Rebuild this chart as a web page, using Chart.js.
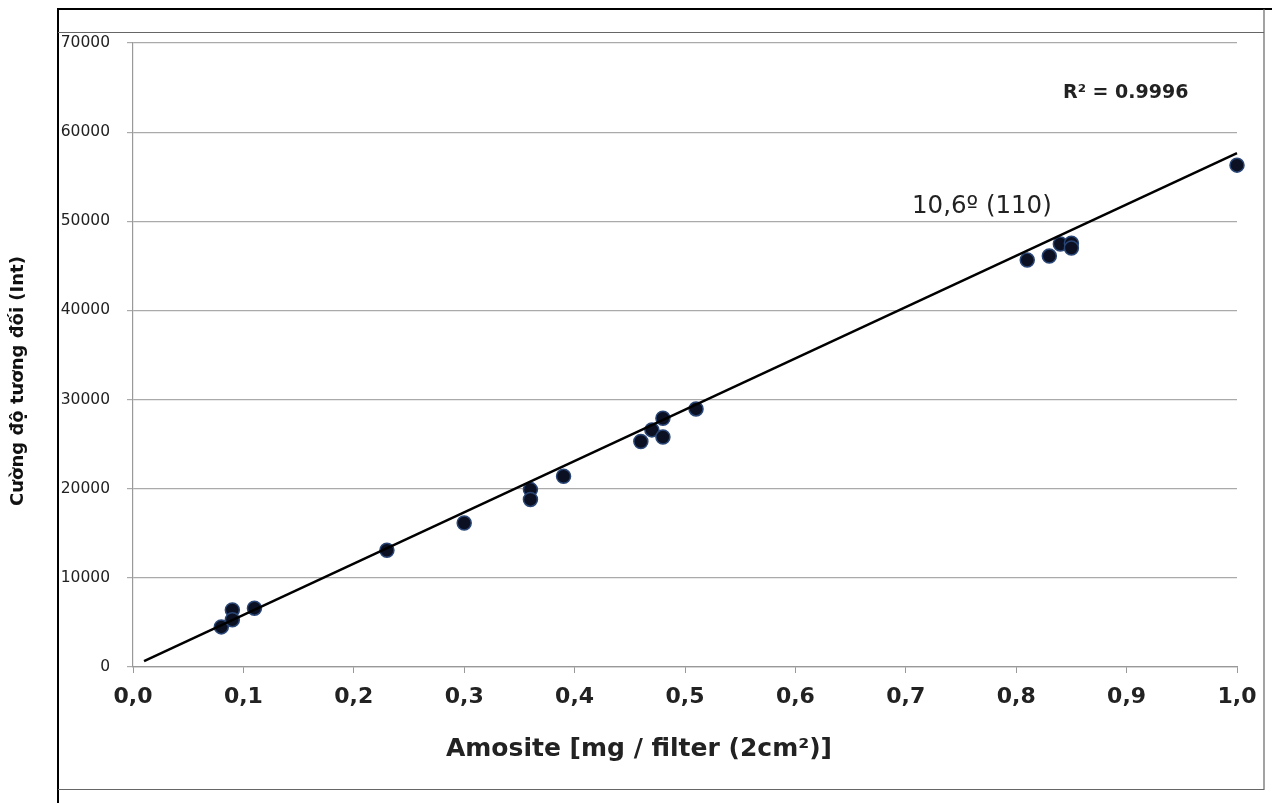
<!DOCTYPE html>
<html>
<head>
<meta charset="utf-8">
<script src="https://cdn.jsdelivr.net/npm/chart.js@4"></script>
<style>
  body { margin: 0; background: #fff; }
  canvas { display: block; }
</style>
</head>
<body>
<canvas id="amosite" width="1272" height="803"></canvas>
<script>
// measured points: amosite mass (mg / filter) vs relative intensity
const massValues = [0.08, 0.09, 0.09, 0.11, 0.23, 0.30, 0.36, 0.36, 0.39, 0.46, 0.47, 0.48, 0.48, 0.51,
                    0.81, 0.83, 0.84, 0.85, 0.85, 1.00];
const intensityValues = [4500, 6400, 5300, 6600, 13100, 16150, 19900, 18800, 21400, 25300, 26600, 27900, 25800, 28950,
                         45650, 46100, 47450, 47550, 47000, 56300];

// fitted line endpoints as drawn
const trendMass = [0.01, 1.0];
const trendIntensity = [650, 57650];

const xTicks = [0, 0.1, 0.2, 0.3, 0.4, 0.5, 0.6, 0.7, 0.8, 0.9, 1.0];
const yTicks = [0, 10000, 20000, 30000, 40000, 50000, 60000, 70000];

const xTitle = 'Amosite [mg / filter (2cm²)]';
const yTitle = 'Cường độ tương đối (Int)';
const r2Label = 'R² = 0.9996';
const peakLabel = '10,6º (110)';

const FONT = '"DejaVu Sans", Arial, sans-serif';

function pairs(xs, ys) {
  return xs.map((x, i) => ({ x: x, y: ys[i] }));
}

// frame lines and free text
const decorations = {
  id: 'decorations',
  afterDraw(chart) {
    const ctx = chart.ctx;
    ctx.save();
    ctx.strokeStyle = '#000';
    ctx.lineWidth = 2;
    ctx.beginPath();
    ctx.moveTo(58, 803); ctx.lineTo(58, 9); ctx.lineTo(1272, 9);
    ctx.stroke();
    ctx.strokeStyle = '#666';
    ctx.lineWidth = 1.2;
    ctx.beginPath();
    ctx.moveTo(58, 32.5); ctx.lineTo(1264, 32.5);
    ctx.moveTo(1264, 9); ctx.lineTo(1264, 789.5); ctx.lineTo(58, 789.5);
    ctx.stroke();

    ctx.fillStyle = '#222';
    ctx.textBaseline = 'middle';
    ctx.textAlign = 'center';
    ctx.font = 'bold 25px ' + FONT;
    ctx.fillText(xTitle, 639, 749);
    ctx.font = 'bold 19px ' + FONT;
    ctx.textAlign = 'left';
    ctx.fillText(r2Label, 1063, 93);
    ctx.font = '24.5px ' + FONT;
    ctx.fillText(peakLabel, 912, 207);

    // y axis title sits outside the frame, a bit below the plot centre
    ctx.save();
    ctx.translate(18, 381);
    ctx.rotate(-Math.PI / 2);
    ctx.textAlign = 'center';
    ctx.fillStyle = '#111';
    ctx.font = 'bold 18px ' + FONT;
    ctx.fillText(yTitle, 0, 0);
    ctx.restore();
    ctx.restore();
  }
};

new Chart(document.getElementById('amosite'), {
  type: 'scatter',
  data: {
    datasets: [
      {
        label: 'Trend',
        type: 'line',
        data: pairs(trendMass, trendIntensity),
        borderColor: '#000',
        borderWidth: 2.5,
        pointRadius: 0,
        fill: false,
        clip: false
      },
      {
        label: 'Amosite',
        data: pairs(massValues, intensityValues),
        backgroundColor: '#0b1122',
        borderColor: '#2a4676',
        borderWidth: 1.5,
        pointRadius: 7,
        clip: false
      }
    ]
  },
  options: {
    responsive: false,
    animation: false,
    layout: { padding: { left: 0, top: 43, right: 35, bottom: 0 } },
    plugins: {
      legend: { display: false },
      tooltip: { enabled: false }
    },
    scales: {
      x: {
        type: 'linear',
        min: 0,
        max: 1,
        afterFit: (scale) => { scale.height = 136; },
        afterBuildTicks: (scale) => { scale.ticks = xTicks.map(v => ({ value: v })); },
        border: { color: '#999', width: 1.2 },
        grid: { drawOnChartArea: false, drawTicks: true, tickLength: 6, color: '#999' },
        ticks: {
          padding: 11,
          color: '#222',
          font: { family: FONT, size: 22, weight: 'bold' },
          callback: (v) => v.toFixed(1).replace('.', ',')
        }
      },
      y: {
        type: 'linear',
        min: 0,
        max: 70000,
        afterFit: (scale) => { scale.width = 133; },
        afterBuildTicks: (scale) => { scale.ticks = yTicks.map(v => ({ value: v })); },
        border: { color: '#999', width: 1.2 },
        grid: { color: '#aaa', lineWidth: 1.2, tickLength: 6 },
        ticks: {
          padding: 17,
          color: '#222',
          font: { family: FONT, size: 15.5 },
          callback: (v) => String(v)
        }
      }
    }
  },
  plugins: [decorations]
});
</script>
</body>
</html>
